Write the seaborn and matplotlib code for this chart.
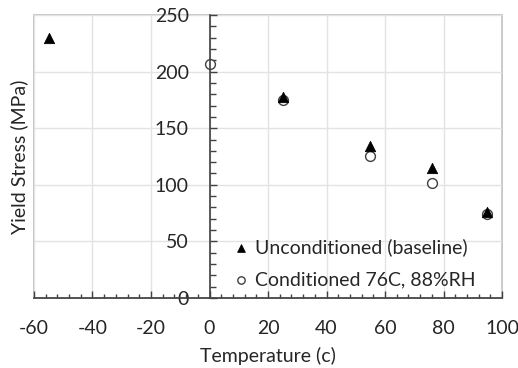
import numpy as np
import pandas as pd
import seaborn as sns
import matplotlib.pyplot as plt
from matplotlib.ticker import MultipleLocator

# values
uncond_temp = [-55, 25, 55, 76, 95]
uncond_stress = [230, 178, 134, 115, 76]
cond_temp = [0, 25, 55, 76, 95]
cond_stress = [207, 175, 125, 102, 74]

label_uncond = "Unconditioned (baseline)"
label_cond = "Conditioned 76C, 88%RH"

df = pd.concat([
    pd.DataFrame({"temp": uncond_temp, "stress": uncond_stress, "series": label_uncond}),
    pd.DataFrame({"temp": cond_temp, "stress": cond_stress, "series": label_cond}),
])

sns.set_style("white")
plt.rcParams["font.family"] = ["Lato", "DejaVu Sans"]
plt.rcParams["font.size"] = 14
plt.rcParams["axes.unicode_minus"] = False

fig = plt.figure(figsize=(5.18, 3.68), dpi=100)
ax = fig.add_axes([34 / 518, 1 - 298 / 368, 468 / 518, 283 / 368])

sns.scatterplot(data=df[df.series == label_uncond], x="temp", y="stress",
                marker="^", s=55, color="black", edgecolor="black",
                label=label_uncond, ax=ax, zorder=3)
sns.scatterplot(data=df[df.series == label_cond], x="temp", y="stress",
                marker="o", s=50, facecolor="white", edgecolor="#404040",
                linewidth=1, label=label_cond, ax=ax, zorder=2)

ax.set_xlim(-60, 100)
ax.set_ylim(0, 250)
ax.xaxis.set_major_locator(MultipleLocator(20))
ax.xaxis.set_minor_locator(MultipleLocator(4))
ax.yaxis.set_major_locator(MultipleLocator(50))
ax.yaxis.set_minor_locator(MultipleLocator(10))

ax.grid(True, which="major", color="#e3e3e3", linewidth=1)
ax.set_axisbelow(True)

# axis frame: patch border for the outer box, y axis crosses at 0
ax.patch.set_edgecolor("#bfbfbf")
ax.patch.set_linewidth(1.2)
ax.spines["top"].set_visible(False)
ax.spines["right"].set_visible(False)
ax.spines["left"].set_position(("data", 0))
for side in ["left", "bottom"]:
    ax.spines[side].set_color("#404040")
    ax.spines[side].set_linewidth(1.2)

ax.tick_params(axis="both", which="both", direction="in", color="#404040",
               width=1, labelcolor="#262626", bottom=True, left=True)
ax.tick_params(axis="x", which="major", length=5, pad=16)
ax.tick_params(axis="x", which="minor", length=3)
ax.tick_params(axis="y", which="major", length=5, pad=15)
ax.tick_params(axis="y", which="minor", length=4)

ax.set_xlabel("Temperature (c)", color="#262626", labelpad=7)
ax.set_ylabel("Yield Stress (MPa)", color="#262626")
ax.yaxis.set_label_coords(-0.012, 0.5)

ax.legend(loc="lower left", bbox_to_anchor=(0.418, 0.035), frameon=False,
          borderaxespad=0, borderpad=0, handletextpad=0.1, labelspacing=0.75,
          handlelength=1.2, markerscale=0.75)

fig.savefig("out.png", dpi=100)
